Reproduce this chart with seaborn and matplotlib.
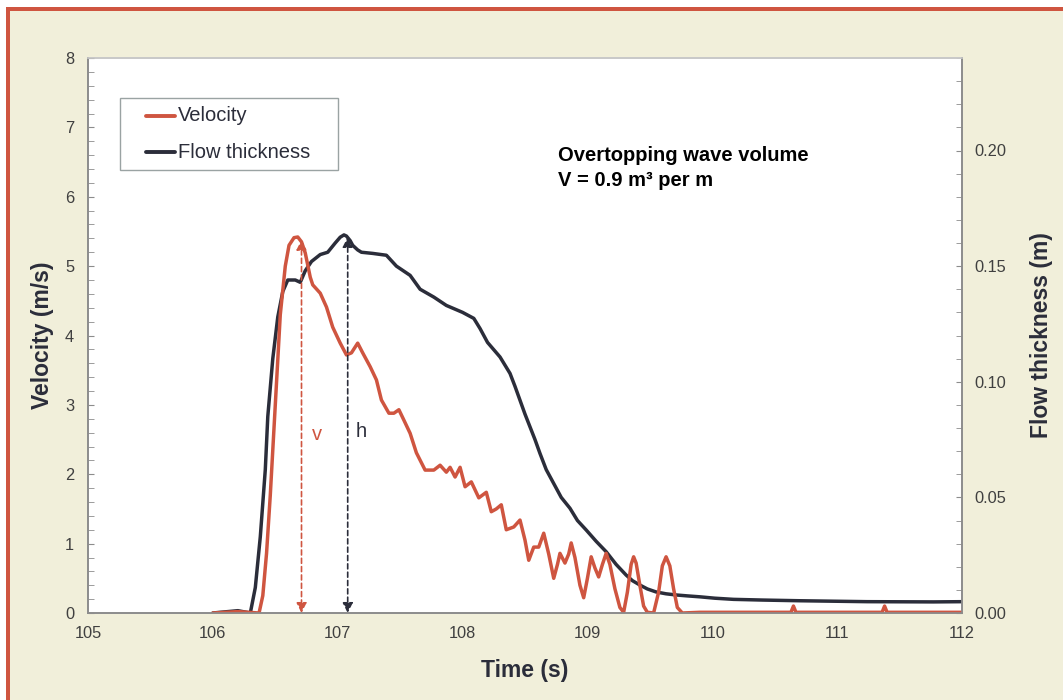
import numpy as np
import pandas as pd
import seaborn as sns
from matplotlib import pyplot as plt
from matplotlib.patches import Rectangle
from matplotlib.lines import Line2D
from matplotlib.ticker import MultipleLocator, FormatStrFormatter

# velocity record
vel_t = [106.00, 106.20, 106.37, 106.40, 106.43, 106.46, 106.50, 106.54, 106.58, 106.61,
         106.65, 106.68, 106.71, 106.74, 106.78, 106.80, 106.86, 106.91, 106.96, 107.02,
         107.07, 107.11, 107.16, 107.20, 107.26, 107.31, 107.35, 107.41, 107.45, 107.49,
         107.53, 107.58, 107.63, 107.70, 107.77, 107.82, 107.87, 107.90, 107.94, 107.98,
         108.02, 108.07, 108.13, 108.19, 108.23, 108.27, 108.31, 108.35, 108.38, 108.41,
         108.46, 108.50, 108.53, 108.57, 108.61, 108.65, 108.69, 108.73, 108.76, 108.78,
         108.82, 108.85, 108.87, 108.90, 108.94, 108.97, 109.00, 109.03, 109.06, 109.09,
         109.12, 109.15, 109.18, 109.22, 109.26, 109.29, 109.32, 109.35, 109.37, 109.39,
         109.42, 109.45, 109.48, 109.53, 109.57, 109.60, 109.63, 109.66, 109.69, 109.72,
         109.76, 109.90, 110.30, 110.63, 110.65, 110.67, 111.00, 111.36, 111.38, 111.40,
         111.80, 112.00]
vel_v = [0.00, 0.02, 0.00, 0.25, 0.86, 1.70, 3.00, 4.30, 5.00, 5.30,
         5.41, 5.42, 5.35, 5.19, 4.84, 4.73, 4.61, 4.41, 4.12, 3.89,
         3.72, 3.75, 3.89, 3.75, 3.55, 3.36, 3.07, 2.88, 2.88, 2.93,
         2.78, 2.59, 2.31, 2.06, 2.06, 2.13, 2.03, 2.10, 1.96, 2.10,
         1.82, 1.89, 1.66, 1.74, 1.46, 1.50, 1.56, 1.20, 1.22, 1.24,
         1.34, 1.05, 0.76, 0.95, 0.95, 1.15, 0.85, 0.50, 0.70, 0.86,
         0.72, 0.85, 1.01, 0.80, 0.40, 0.22, 0.50, 0.81, 0.65, 0.52,
         0.70, 0.86, 0.70, 0.35, 0.08, 0.01, 0.30, 0.70, 0.81, 0.72,
         0.40, 0.10, 0.01, 0.00, 0.30, 0.68, 0.81, 0.68, 0.35, 0.08,
         0.00, 0.01, 0.01, 0.01, 0.10, 0.01, 0.01, 0.01, 0.10, 0.01,
         0.01, 0.01]

# flow thickness record
thk_t = [106.00, 106.20, 106.30, 106.34, 106.38, 106.42, 106.44, 106.48, 106.52, 106.56,
         106.60, 106.66, 106.70, 106.74, 106.79, 106.86, 106.92, 106.98, 107.02, 107.05,
         107.07, 107.10, 107.12, 107.16, 107.19, 107.28, 107.39, 107.47, 107.58, 107.66,
         107.77, 107.87, 108.00, 108.09, 108.14, 108.20, 108.30, 108.38, 108.42, 108.46,
         108.50, 108.54, 108.58, 108.62, 108.67, 108.73, 108.79, 108.86, 108.92, 108.99,
         109.07, 109.15, 109.23, 109.31, 109.36, 109.42, 109.48, 109.55, 109.63, 109.71,
         109.80, 109.90, 110.02, 110.17, 110.40, 110.70, 111.24, 111.77, 112.00]
thk_h = [0.000, 0.001, 0.000, 0.011, 0.033, 0.062, 0.085, 0.110, 0.128, 0.139,
         0.144, 0.144, 0.143, 0.148, 0.152, 0.155, 0.156, 0.160, 0.1625, 0.1635,
         0.163, 0.161, 0.159, 0.157, 0.156, 0.1555, 0.1547, 0.150, 0.146, 0.140,
         0.1366, 0.133, 0.130, 0.1274, 0.123, 0.117, 0.1107, 0.1036, 0.098, 0.092,
         0.086, 0.0805, 0.075, 0.069, 0.062, 0.056, 0.050, 0.0453, 0.040, 0.0359,
         0.031, 0.0265, 0.021, 0.0164, 0.014, 0.0121, 0.0104, 0.0091, 0.0083, 0.0078,
         0.0074, 0.0070, 0.0064, 0.0059, 0.0056, 0.0053, 0.0049, 0.0048, 0.0049]

series_names = ['Velocity', 'Flow thickness']

vel = pd.DataFrame({'t': vel_t, 'v': vel_v})
thk = pd.DataFrame({'t': thk_t, 'h': thk_h})

RED = '#CF5540'
DARK = '#2B2D3A'
BEIGE = '#F1EFDA'
GREY = '#8C8C8C'
TXT = '#404040'

sns.set_style('white')
plt.rcParams['font.family'] = ['Liberation Sans', 'DejaVu Sans']

fig = plt.figure(figsize=(10.63, 7.0), dpi=100)
fig.patch.set_facecolor('white')
# red frame on top/left, beige panel
fig.patches.append(Rectangle((6 / 1063, 0), 1, 693 / 700, transform=fig.transFigure,
                             facecolor=RED, edgecolor='none', zorder=-2))
fig.patches.append(Rectangle((10 / 1063, 0), 1, 689 / 700, transform=fig.transFigure,
                             facecolor=BEIGE, edgecolor='none', zorder=-1))

ax = fig.add_axes([88 / 1063, 87 / 700, 874 / 1063, 555 / 700])
ax2 = ax.twinx()

sns.lineplot(data=thk, x='t', y='h', ax=ax2, color=DARK, lw=2.5, estimator=None, sort=False)
sns.lineplot(data=vel, x='t', y='v', ax=ax, color=RED, lw=2.5, estimator=None, sort=False)
ax.set_zorder(ax2.get_zorder() + 1)
ax.patch.set_visible(False)
ax2.patch.set_visible(True)
ax2.patch.set_facecolor('white')

ax.set_xlim(105, 112)
ax.set_ylim(0, 8)
ax2.set_ylim(0, 0.24)

ax.xaxis.set_major_locator(MultipleLocator(1))
ax.xaxis.set_minor_locator(MultipleLocator(0.2))
ax.yaxis.set_major_locator(MultipleLocator(1))
ax.yaxis.set_minor_locator(MultipleLocator(0.2))
ax2.yaxis.set_major_locator(MultipleLocator(0.05))
ax2.yaxis.set_minor_locator(MultipleLocator(0.01))
ax2.yaxis.set_major_formatter(FormatStrFormatter('%.2f'))

for a in (ax, ax2):
    for s in a.spines.values():
        s.set_color(GREY)
        s.set_linewidth(1.2)
    a.spines['top'].set_color('#C8C8C8')

ax.tick_params(axis='x', which='major', direction='out', length=5, color=GREY,
               labelsize=11.8, labelcolor=TXT, pad=4.5)
ax.tick_params(axis='x', which='minor', direction='in', length=4, color=GREY)
ax.tick_params(axis='y', which='both', direction='in', length=4, color=GREY,
               labelsize=11.8, labelcolor=TXT, pad=10)
ax2.tick_params(axis='y', which='both', direction='in', length=4, color=GREY,
                labelsize=11.8, labelcolor=TXT, pad=9)
ax.tick_params(axis='x', which='both', top=False)

ax.set_xlabel('Time (s)', fontsize=16.5, fontweight='bold', color=DARK, labelpad=13)
ax.set_ylabel('Velocity (m/s)', fontsize=16.5, fontweight='bold', color=DARK, labelpad=8)
ax2.set_ylabel('Flow thickness (m)', fontsize=16.5, fontweight='bold', color=DARK, labelpad=17)

# arrows for v and h
ax.annotate('', xy=(106.71, 0.0), xytext=(106.71, 5.38),
            arrowprops=dict(arrowstyle='<|-|>', ls=(0, (3, 2)), color=RED, lw=1.2,
                            mutation_scale=15, shrinkA=0, shrinkB=0))
ax.annotate('', xy=(107.08, 0.0), xytext=(107.08, 5.42),
            arrowprops=dict(arrowstyle='<|-|>', ls=(0, (3, 2)), color=DARK, lw=1.2,
                            mutation_scale=15, shrinkA=0, shrinkB=0))
ax.text(106.79, 2.57, 'v', color=RED, fontsize=14.5, va='center')
ax.text(107.14, 2.62, 'h', color=DARK, fontsize=14.5, va='center')

ax.text(0.538, 0.825, 'Overtopping wave volume', transform=ax.transAxes,
        fontsize=14.5, fontweight='bold', color='black', va='center')
ax.text(0.538, 0.78, 'V = 0.9 m³ per m', transform=ax.transAxes,
        fontsize=14.5, fontweight='bold', color='black', va='center')

# legend box, laid out like the original
ax.add_patch(Rectangle((0.0366, 0.798), 0.2494, 0.130, transform=ax.transAxes,
                       facecolor='white', edgecolor='#9AA3A3', lw=1.0, zorder=5))
for i, (name, col) in enumerate(zip(series_names, [RED, DARK])):
    yy = 0.8955 - i * 0.065
    ax.add_line(Line2D([0.0664, 0.0995], [yy, yy], transform=ax.transAxes,
                       color=col, lw=2.8, zorder=6))
    ax.text(0.1025, yy, name, transform=ax.transAxes, fontsize=14.5, color=DARK,
            va='center', ha='left', zorder=6)

fig.savefig('out.png', dpi=100, facecolor=fig.get_facecolor())
plt.close(fig)
